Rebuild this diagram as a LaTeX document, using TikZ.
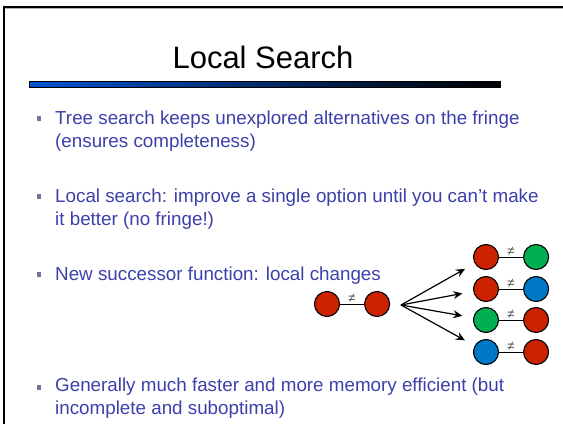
\documentclass[tikz,border=0pt]{standalone}
\usepackage{fontspec}
\setmainfont{Liberation Sans}
\usetikzlibrary{arrows.meta,positioning}

\definecolor{bodyblue}{RGB}{60,64,170}
\definecolor{bulletgrey}{RGB}{110,118,160}
\definecolor{barblue}{RGB}{0,84,210}
\definecolor{nodered}{RGB}{204,34,0}
\definecolor{nodegreen}{RGB}{0,176,80}
\definecolor{nodeblue}{RGB}{0,120,200}

\begin{document}
\begin{tikzpicture}[
    x=1pt, y=-1pt,
    >={Stealth[length=9pt, width=8pt]},
    title/.style={font=\fontsize{31}{36}\selectfont, anchor=base},
    btext/.style={anchor=base west, align=left, inner sep=0pt, text=bodyblue,
        font=\fontsize{18.8}{23}\selectfont},
    bullet/.style={fill=bulletgrey, minimum size=4.5pt, inner sep=0pt},
    var/.style={circle, draw, line width=1.1pt, minimum size=25pt, inner sep=0pt},
    neq/.style={above, inner sep=1pt, text=black!70, font=\fontsize{13}{13}\selectfont},
    link/.style={draw, line width=0.8pt},
    move/.style={->, line width=1.2pt, shorten >=11pt},
]
\useasboundingbox (0,0) rectangle (563,424);

% ---- slide frame ----
\draw[gray!60, line width=0.8pt] (5,8.4) -- (563,8.4);
\draw[line width=2pt] (3.7,424) -- (3.7,6.7) -- (563,6.7);

% ---- title ----
\node[title] (ttl) at (263,68) {Local Search};
\shade[left color=barblue, right color=black, draw=black, line width=0.4pt]
    (29,81) rectangle (500,87);

% ---- bullets (multi-line nodes sit on their last baseline) ----
\node[bullet] (b1) at (39,118.5) {};
\node[btext] (t1) at (55,147) {Tree search keeps unexplored alternatives on the fringe\\
    (ensures completeness)};

\node[bullet] (b2) at (39,196.5) {};
\node[btext] (t2) at (55,225) {Local search: improve a single option until you can’t make\\
    it better (no fringe!)};

\node[bullet] (b3) at (39,274.5) {};
\node[btext] (t3) at (55,280) {New successor function: local changes};

\node[bullet] (b4) at (39,387.5) {};
\node[btext] (t4) at (55,414) {Generally much faster and more memory efficient (but\\
    incomplete and suboptimal)};

% ---- local changes ----
\node[var, fill=nodered] (s1) at (327,304) {};
\node[var, fill=nodered, right=24pt of s1] (s2) {};
\draw[link] (s1) -- node[neq] {≠} (s2);
\coordinate (fan) at (401,305);

\foreach \i/\y/\ca/\cb in {1/257/nodered/nodegreen, 2/289/nodered/nodeblue,
                          3/320/nodegreen/nodered, 4/352/nodeblue/nodered} {
    \node[var, fill=\ca] (a\i) at (486,\y) {};
    \node[var, fill=\cb, right=24pt of a\i] (c\i) {};
    \draw[link] (a\i) -- node[neq] {≠} (c\i);
    \draw[move] (fan) -- (a\i);
}
\end{tikzpicture}
\end{document}
